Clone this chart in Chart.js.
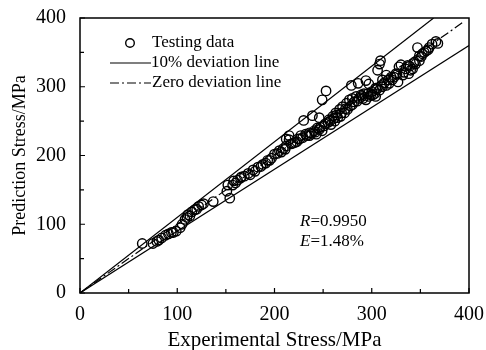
<!DOCTYPE html>
<html>
<head>
<meta charset="utf-8">
<script src="https://cdn.jsdelivr.net/npm/chart.js@4/dist/chart.umd.min.js"></script>
<style>
  html, body { margin: 0; padding: 0; background: #fff; }
  #wrap { width: 486px; height: 350px; }
</style>
</head>
<body>
<div id="wrap"><canvas id="chart"></canvas></div>
<script>
// experimental vs predicted stress (MPa)
const expStress = [64, 75, 79, 81, 84, 91, 96, 99, 103, 105, 108, 111, 115, 118, 122, 127, 137,
  152, 154, 151, 157, 162, 165, 169, 173, 178, 183, 188, 193, 197, 200, 205, 209, 212, 215, 217,
  221, 224, 227, 230, 232, 236, 239, 241, 244, 246, 249, 253, 251, 256, 260, 263, 267, 270, 274,
  277, 279, 280, 284, 286, 289, 292, 294, 297, 299, 303, 304, 308, 309, 306, 311, 315, 318, 321,
  325, 328, 330, 333, 337, 340, 344, 347, 349, 352, 356, 359, 362, 366, 368,
  294, 297, 301, 304, 308, 311, 315, 320, 327, 332, 338, 342, 345, 349,
  236, 243, 246, 249, 255, 258, 262, 265, 268, 272, 275, 280, 285, 291, 212, 215,
  175, 180, 186, 191, 195, 203, 207, 211, 219, 223, 226, 229, 233, 238, 242, 247, 252, 257,
  261, 264, 269, 273, 278, 282, 287, 290, 296, 300, 305, 310, 313, 317, 323, 326, 335, 339,
  343, 351, 354, 358, 110, 113, 120, 125, 160, 158, 166, 88, 94];
const predStress = [72, 72, 75, 77, 80, 86, 88, 90, 95, 100, 107, 114, 118, 121, 126, 130, 133,
  157, 138, 148, 157, 164, 167, 170, 174, 179, 183, 187, 193, 196, 202, 207, 210, 214, 223, 217,
  219, 224, 229, 251, 231, 233, 258, 236, 240, 255, 281, 294, 243, 252, 257, 262, 267, 271, 276,
  281, 302, 283, 286, 305, 288, 290, 309, 304, 288, 290, 298, 333, 338, 324, 310, 317, 305, 310,
  319, 329, 332, 321, 331, 324, 336, 357, 345, 348, 352, 357, 362, 366, 363,
  281, 286, 288, 286, 295, 300, 302, 314, 307, 317, 319, 326, 333, 338,
  229, 231, 238, 236, 248, 245, 250, 255, 257, 262, 267, 274, 279, 283, 224, 229,
  172, 177, 184, 189, 193, 203, 205, 209, 218, 220, 224, 226, 229, 232, 234, 241, 246, 250,
  254, 259, 262, 268, 272, 278, 283, 286, 290, 293, 296, 302, 306, 310, 314, 318, 326, 330,
  334, 344, 350, 354, 110, 112, 122, 128, 160, 163, 169, 84, 88];

// reference lines: +10%, -10% and zero deviation
const upperLine = [[0, 0], [363.6, 400]];
const lowerLine = [[0, 0], [400, 360]];
const zeroLine = [[0, 0], [395, 395]];

const axisMin = 0;
const axisMax = 400;
const tickStep = 50;
const labelStep = 100;

const serif = '"Liberation Serif", "Times New Roman", serif';
const toPts = arr => arr.map(p => ({ x: p[0], y: p[1] }));
const dashDot = [9, 3, 2, 3];

const frameAndTicks = {
  id: 'frameAndTicks',
  afterDraw(chart) {
    const { ctx, chartArea: a, scales } = chart;
    ctx.save();
    ctx.strokeStyle = '#000';
    ctx.lineWidth = 1.5;
    ctx.strokeRect(a.left, a.top, a.right - a.left, a.bottom - a.top);
    ctx.lineWidth = 1.2;
    ctx.beginPath();
    scales.x.ticks.forEach(t => {
      const px = scales.x.getPixelForValue(t.value);
      const len = t.value % labelStep === 0 ? 5 : 4;
      ctx.moveTo(px, a.bottom);
      ctx.lineTo(px, a.bottom - len);
    });
    scales.y.ticks.forEach(t => {
      const py = scales.y.getPixelForValue(t.value);
      const len = t.value % labelStep === 0 ? 5 : 4;
      ctx.moveTo(a.left, py);
      ctx.lineTo(a.left + len, py);
    });
    ctx.stroke();

    // legend
    ctx.fillStyle = '#000';
    ctx.font = '17px ' + serif;
    ctx.textBaseline = 'middle';
    ctx.lineWidth = 1.4;
    ctx.beginPath();
    ctx.arc(130, 43, 4.3, 0, Math.PI * 2);
    ctx.stroke();
    ctx.fillText('Testing data', 152, 43);
    ctx.lineWidth = 1.2;
    ctx.beginPath();
    ctx.moveTo(110, 63);
    ctx.lineTo(151, 63);
    ctx.stroke();
    ctx.fillText('10% deviation line', 151, 63);
    ctx.setLineDash(dashDot);
    ctx.beginPath();
    ctx.moveTo(110, 83);
    ctx.lineTo(151, 83);
    ctx.stroke();
    ctx.setLineDash([]);
    ctx.fillText('Zero deviation line', 152, 83);

    // statistics
    ctx.font = 'italic 17px ' + serif;
    ctx.fillText('R', 300, 222);
    ctx.fillText('E', 300, 242);
    const rw = ctx.measureText('R').width;
    const ew = ctx.measureText('E').width;
    ctx.font = '17px ' + serif;
    ctx.fillText('=0.9950', 300 + rw, 222);
    ctx.fillText('=1.48%', 300 + ew, 242);
    ctx.restore();
  }
};

const lineStyle = {
  type: 'line',
  borderColor: '#000',
  borderWidth: 1.2,
  pointRadius: 0,
  fill: false,
  showLine: true
};

new Chart(document.getElementById('chart'), {
  type: 'scatter',
  data: {
    datasets: [
      {
        label: 'Testing data',
        data: expStress.map((v, i) => ({ x: v, y: predStress[i] })),
        pointStyle: 'circle',
        pointRadius: 4.7,
        pointBorderWidth: 1.4,
        pointBorderColor: '#000',
        pointBackgroundColor: 'rgba(0,0,0,0)'
      },
      Object.assign({ label: '10% deviation line', data: toPts(upperLine) }, lineStyle),
      Object.assign({ label: '10% deviation line', data: toPts(lowerLine) }, lineStyle),
      Object.assign({ label: 'Zero deviation line', data: toPts(zeroLine), borderDash: dashDot }, lineStyle)
    ]
  },
  options: {
    responsive: true,
    maintainAspectRatio: false,
    animation: false,
    layout: { padding: { top: 13, right: 16, left: 0, bottom: 0 } },
    plugins: { legend: { display: false }, tooltip: { enabled: false } },
    scales: {
      x: {
        type: 'linear',
        min: axisMin,
        max: axisMax,
        grid: { display: false },
        border: { display: false },
        ticks: {
          stepSize: tickStep,
          autoSkip: false,
          maxRotation: 0,
          padding: 2,
          color: '#000',
          font: { family: serif, size: 20 },
          callback: v => (v % labelStep === 0 ? v : '')
        },
        title: {
          display: true,
          text: 'Experimental Stress/MPa',
          color: '#000',
          font: { family: serif, size: 21 },
          padding: { top: 0, bottom: -3 }
        },
        afterFit: s => { s.height = 57; }
      },
      y: {
        type: 'linear',
        min: axisMin,
        max: axisMax,
        grid: { display: false },
        border: { display: false },
        ticks: {
          stepSize: tickStep,
          autoSkip: false,
          padding: 6,
          color: '#000',
          font: { family: serif, size: 20 },
          callback: v => (v % labelStep === 0 ? v : '')
        },
        title: {
          display: true,
          text: 'Prediction Stress/MPa',
          color: '#000',
          font: { family: serif, size: 18 },
          padding: { top: 9, bottom: 0 }
        },
        afterFit: s => { s.width = 80; }
      }
    }
  },
  plugins: [frameAndTicks]
});
</script>
</body>
</html>
